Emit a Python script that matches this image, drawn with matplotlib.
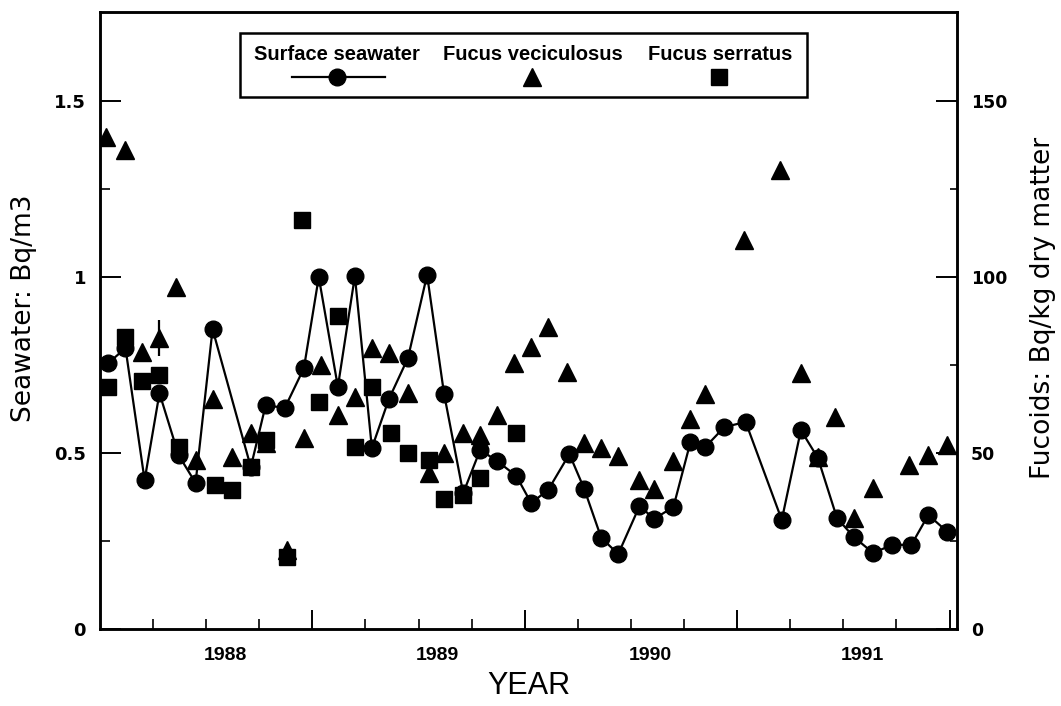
import matplotlib
matplotlib.use("Agg")
import matplotlib.pyplot as plt
from matplotlib.patches import Rectangle
from matplotlib.lines import Line2D
import numpy as np

# ---------------- data ----------------
sw_year = [1987.45, 1987.53, 1987.62, 1987.69, 1987.78, 1987.86, 1987.94, 1988.12,
           1988.19, 1988.28, 1988.37, 1988.44, 1988.53, 1988.61, 1988.69, 1988.77,
           1988.86, 1988.95, 1989.03, 1989.12, 1989.20, 1989.28, 1989.37, 1989.44,
           1989.52, 1989.62, 1989.69, 1989.77, 1989.85, 1989.95, 1990.02, 1990.11,
           1990.19, 1990.26, 1990.35, 1990.45, 1990.62, 1990.71, 1990.79, 1990.88,
           1990.96, 1991.05, 1991.14, 1991.23, 1991.31, 1991.40]
sw_value = [0.756, 0.798, 0.423, 0.670, 0.494, 0.415, 0.852, 0.460,
            0.636, 0.628, 0.741, 1.000, 0.688, 1.003, 0.514, 0.653,
            0.770, 1.006, 0.668, 0.386, 0.509, 0.477, 0.435, 0.358,
            0.395, 0.497, 0.398, 0.259, 0.213, 0.349, 0.313, 0.347,
            0.531, 0.517, 0.574, 0.588, 0.310, 0.565, 0.486, 0.315,
            0.261, 0.216, 0.239, 0.239, 0.324, 0.276]

fv_year = [1987.44, 1987.53, 1987.61, 1987.69, 1987.77, 1987.86, 1987.94, 1988.03,
           1988.12, 1988.19, 1988.29, 1988.37, 1988.45, 1988.53, 1988.61, 1988.69,
           1988.77, 1988.86, 1988.96, 1989.03, 1989.12, 1989.20, 1989.28, 1989.36,
           1989.44, 1989.52, 1989.61, 1989.69, 1989.77, 1989.85, 1989.95, 1990.02,
           1990.11, 1990.19, 1990.26, 1990.44, 1990.61, 1990.71, 1990.79, 1990.87,
           1990.96, 1991.05, 1991.22, 1991.31, 1991.40]
fv_value = [139.8, 136.1, 78.7, 82.7, 97.2, 48.0, 65.3, 48.9,
            55.7, 52.8, 22.4, 54.3, 75.0, 60.8, 65.9, 79.8,
            78.4, 67.0, 44.3, 50.0, 55.7, 55.1, 60.8, 75.6,
            80.1, 85.8, 73.0, 52.8, 51.4, 49.1, 42.3, 39.8,
            47.7, 59.7, 66.8, 110.5, 130.4, 72.7, 48.9, 60.2,
            31.5, 40.1, 46.6, 49.4, 52.3]

fs_year = [1987.45, 1987.53, 1987.61, 1987.69, 1987.78, 1987.95, 1988.03, 1988.12,
           1988.19, 1988.29, 1988.36, 1988.44, 1988.53, 1988.61, 1988.69, 1988.78,
           1988.86, 1988.96, 1989.03, 1989.12, 1989.20, 1989.37]
fs_value = [68.8, 83.0, 70.5, 72.2, 51.7, 40.9, 39.5, 46.0,
            53.7, 20.5, 116.2, 64.5, 88.9, 51.7, 68.8, 55.7,
            50.0, 48.0, 36.9, 38.1, 42.9, 55.7]

err_year = [1987.69]
err_value = [82.7]
err_size = [5.0]

year_labels = ["1988", "1989", "1990", "1991"]
year_label_pos = [1988.0, 1989.0, 1990.0, 1991.0]

legend_labels = ["Surface seawater", "Fucus veciculosus", "Fucus serratus"]

# ---------------- figure ----------------
helv = ["Liberation Sans", "DejaVu Sans"]
plt.rcParams['font.family'] = ['DejaVu Sans']

fig = plt.figure(figsize=(10.61, 7.06), dpi=100)
ax = fig.add_axes([100/1061, 77/706, 857/1061, 617/706])
ax2 = ax.twinx()

x0, x1 = 1987.41, 1991.445
ax.set_xlim(x0, x1)
ax.set_ylim(0, 1.753)
ax2.set_ylim(0, 175.3)

# seawater line
ax.plot(sw_year, sw_value, color='black', lw=1.6, marker='o', ms=12,
        mfc='black', mec='black', zorder=3)
# fucoids
ax2.plot(fv_year, fv_value, ls='none', marker='^', ms=13, color='black', zorder=3)
ax2.plot(fs_year, fs_value, ls='none', marker='s', ms=11, color='black', zorder=3)
ax2.errorbar(err_year, err_value, yerr=err_size, fmt='none', ecolor='black',
             elinewidth=1.6, capsize=0)

for a in (ax, ax2):
    for s in a.spines.values():
        s.set_linewidth(1.8)

# x ticks: long marks each year (starting June), short quarterly marks
ax.set_xticks(np.arange(1988.41, 1991.42, 1.0))
ax.set_xticks(np.arange(1987.66, 1991.42, 0.25), minor=True)
ax.tick_params(axis='x', which='major', direction='in', length=14, width=1.4,
               labelbottom=False, top=False)
ax.tick_params(axis='x', which='minor', direction='in', length=7, width=1.2, top=False)

sec = ax.secondary_xaxis('bottom')
sec.set_xticks(year_label_pos, year_labels)
sec.tick_params(axis='x', length=0, pad=13)
for lab in sec.get_xticklabels():
    lab.set_family(helv)
    lab.set_fontweight('bold')
    lab.set_fontsize(14)
sec.spines['bottom'].set_visible(False)

ax.set_xlabel("YEAR", family=helv, fontsize=22)
ax.xaxis.set_label_coords(0.5, -0.068)

# left y axis
ax.set_yticks([0, 0.5, 1.0, 1.5], ["0", "0.5", "1", "1.5"])
ax.set_yticks([0.25, 0.75, 1.25], minor=True)
ax.tick_params(axis='y', which='major', direction='in', length=15, width=1.4,
               pad=10, labelsize=13)
ax.tick_params(axis='y', which='minor', direction='in', length=7, width=1.2)
for lab in ax.get_yticklabels():
    lab.set_fontweight('bold')
ax.set_ylabel("Seawater: Bq/m3", fontsize=19)
ax.yaxis.set_label_coords(-0.073, 0.52)

# right y axis
ax2.set_yticks([0, 50, 100, 150], ["0", "50", "100", "150"])
ax2.set_yticks([25, 75, 125], minor=True)
ax2.tick_params(axis='y', which='major', direction='in', length=15, width=1.4,
                pad=10, labelsize=12.5)
ax2.tick_params(axis='y', which='minor', direction='in', length=5, width=1.2)
for lab in ax2.get_yticklabels():
    lab.set_fontweight('bold')
ax2.set_ylabel("Fucoids: Bq/kg dry matter", fontsize=19)
ax2.yaxis.set_label_coords(1.085, 0.52)

# legend box (labels above symbols)
def fx(px):
    return (px - 100) / 857.0
def fy(py):
    return (629 - py) / 617.0

ax2.add_patch(Rectangle((fx(240), fy(97)), fx(807) - fx(240), fy(33) - fy(97),
                        transform=ax2.transAxes, fill=True, facecolor='white',
                        edgecolor='black', lw=1.8, zorder=5))
text_x = [337, 533, 720]
for lbl, tx in zip(legend_labels, text_x):
    ax2.text(fx(tx), fy(55), lbl, transform=ax2.transAxes, ha='center', va='center',
             family=helv, fontweight='bold', fontsize=14.5, zorder=6)
ax2.add_line(Line2D([fx(292), fx(385)], [fy(77), fy(77)], transform=ax2.transAxes,
                    color='black', lw=1.6, zorder=6))
ax2.add_line(Line2D([fx(337)], [fy(77)], transform=ax2.transAxes, marker='o', ms=12,
                    color='black', zorder=6))
ax2.add_line(Line2D([fx(532)], [fy(77)], transform=ax2.transAxes, marker='^', ms=13,
                    color='black', zorder=6))
ax2.add_line(Line2D([fx(719)], [fy(77)], transform=ax2.transAxes, marker='s', ms=11,
                    color='black', zorder=6))

fig.savefig("out.png", dpi=100)
